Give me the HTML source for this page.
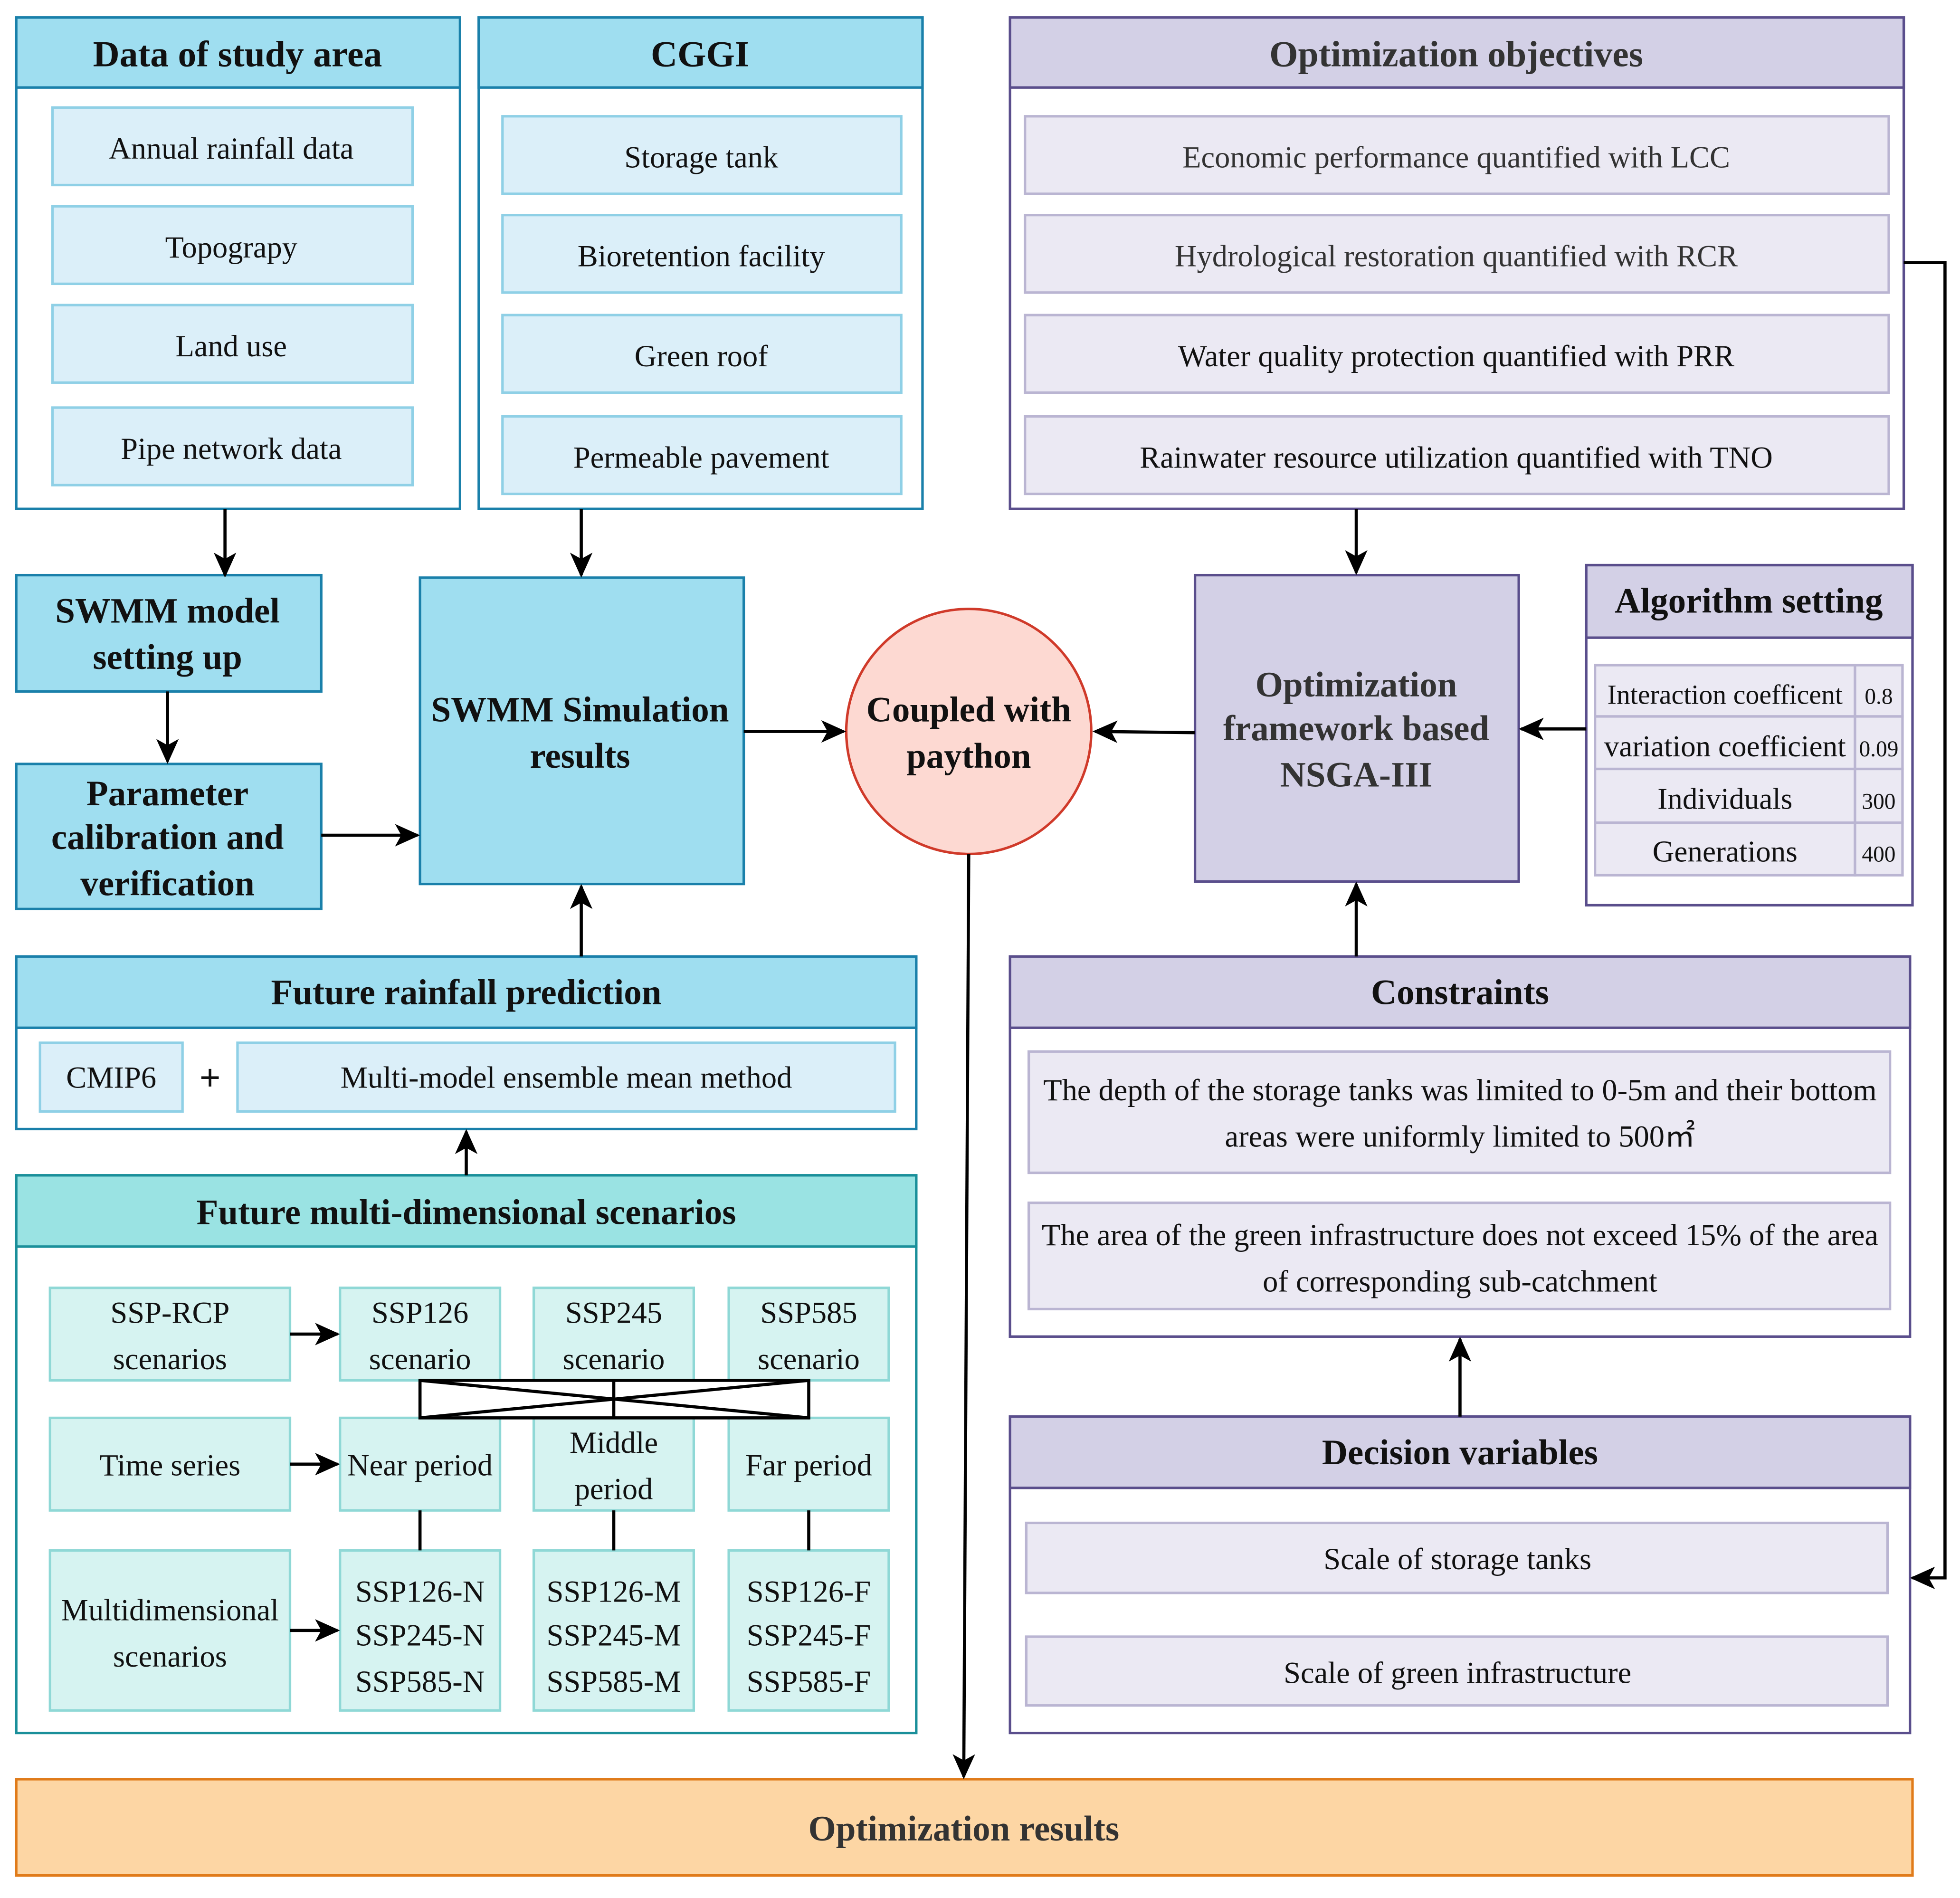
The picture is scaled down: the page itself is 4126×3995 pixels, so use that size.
<!DOCTYPE html>
<html><head><meta charset="utf-8"><style>
html,body{margin:0;padding:0;background:#fff;}
svg{display:block;}
text{font-family:"Liberation Serif",serif;fill:#111;}
</style></head><body>
<svg width="4126" height="3995" viewBox="0 0 1568 1518" preserveAspectRatio="none" xmlns="http://www.w3.org/2000/svg">
<defs>
<marker id="b" markerWidth="20" markerHeight="20" refX="18" refY="10" orient="auto" markerUnits="userSpaceOnUse" viewBox="0 0 20 20"><path d="M0,1 L20,10 L0,19 L5,10 z" fill="#000"/></marker>
</defs>
<rect width="1568" height="1518" fill="#fff"/>
<g stroke-width="2">
<rect x="13" y="14" width="355" height="393" fill="#fff" stroke="#1a80aa"/>
<rect x="13" y="14" width="355" height="56" fill="#9fdef0" stroke="#1a80aa"/>
<g fill="#dbeff9" stroke="#8fd0e6">
<rect x="42" y="86" width="288" height="62"/><rect x="42" y="165" width="288" height="62"/>
<rect x="42" y="244" width="288" height="62"/><rect x="42" y="326" width="288" height="62"/>
</g>
<rect x="383" y="14" width="355" height="393" fill="#fff" stroke="#1a80aa"/>
<rect x="383" y="14" width="355" height="56" fill="#9fdef0" stroke="#1a80aa"/>
<g fill="#dbeff9" stroke="#8fd0e6">
<rect x="402" y="93" width="319" height="62"/><rect x="402" y="172" width="319" height="62"/>
<rect x="402" y="252" width="319" height="62"/><rect x="402" y="333" width="319" height="62"/>
</g>
<rect x="808" y="14" width="715" height="393" fill="#fff" stroke="#5a4e8c"/>
<rect x="808" y="14" width="715" height="56" fill="#d3d0e6" stroke="#5a4e8c"/>
<g fill="#ebe9f3" stroke="#bab5d2">
<rect x="820" y="93" width="691" height="62"/><rect x="820" y="172" width="691" height="62"/>
<rect x="820" y="252" width="691" height="62"/><rect x="820" y="333" width="691" height="62"/>
</g>
<rect x="13" y="460" width="244" height="93" fill="#9fdef0" stroke="#1a80aa"/>
<rect x="13" y="611" width="244" height="116" fill="#9fdef0" stroke="#1a80aa"/>
<rect x="336" y="462" width="259" height="245" fill="#9fdef0" stroke="#1a80aa"/>
<circle cx="775" cy="585" r="98" fill="#fdd9d2" stroke="#d03a2a"/>
<rect x="956" y="460" width="259" height="245" fill="#d3d0e6" stroke="#5a4e8c"/>
<rect x="1269" y="452" width="261" height="272" fill="#fff" stroke="#5a4e8c"/>
<rect x="1269" y="452" width="261" height="58" fill="#d3d0e6" stroke="#5a4e8c"/>
<g fill="#ebe9f3" stroke="#bab5d2">
<rect x="1276" y="532" width="208" height="41"/><rect x="1484" y="532" width="38" height="41"/>
<rect x="1276" y="573" width="208" height="42"/><rect x="1484" y="573" width="38" height="42"/>
<rect x="1276" y="615" width="208" height="43"/><rect x="1484" y="615" width="38" height="43"/>
<rect x="1276" y="658" width="208" height="42"/><rect x="1484" y="658" width="38" height="42"/>
</g>
<rect x="13" y="765" width="720" height="138" fill="#fff" stroke="#1a80aa"/>
<rect x="13" y="765" width="720" height="57" fill="#9fdef0" stroke="#1a80aa"/>
<rect x="32" y="834" width="114" height="55" fill="#dbeff9" stroke="#8fd0e6"/>
<rect x="190" y="834" width="526" height="55" fill="#dbeff9" stroke="#8fd0e6"/>
<rect x="13" y="940" width="720" height="446" fill="#fff" stroke="#1a8f9a"/>
<rect x="13" y="940" width="720" height="57" fill="#9ae3e3" stroke="#1a8f9a"/>
<g fill="#d6f3f1" stroke="#8fd8d6">
<rect x="40" y="1030" width="192" height="74"/><rect x="272" y="1030" width="128" height="74"/><rect x="427" y="1030" width="128" height="74"/><rect x="583" y="1030" width="128" height="74"/>
<rect x="40" y="1134" width="192" height="74"/><rect x="272" y="1134" width="128" height="74"/><rect x="427" y="1134" width="128" height="74"/><rect x="583" y="1134" width="128" height="74"/>
<rect x="40" y="1240" width="192" height="128"/><rect x="272" y="1240" width="128" height="128"/><rect x="427" y="1240" width="128" height="128"/><rect x="583" y="1240" width="128" height="128"/>
</g>
<rect x="808" y="765" width="720" height="304" fill="#fff" stroke="#5a4e8c"/>
<rect x="808" y="765" width="720" height="57" fill="#d3d0e6" stroke="#5a4e8c"/>
<rect x="823" y="841" width="689" height="97" fill="#ebe9f3" stroke="#bab5d2"/>
<rect x="823" y="962" width="689" height="85" fill="#ebe9f3" stroke="#bab5d2"/>
<rect x="808" y="1133" width="720" height="253" fill="#fff" stroke="#5a4e8c"/>
<rect x="808" y="1133" width="720" height="57" fill="#d3d0e6" stroke="#5a4e8c"/>
<rect x="821" y="1218" width="689" height="56" fill="#ebe9f3" stroke="#bab5d2"/>
<rect x="821" y="1309" width="689" height="55" fill="#ebe9f3" stroke="#bab5d2"/>
<rect x="13" y="1423" width="1517" height="77" fill="#fdd6a4" stroke="#e07b1a"/>
</g>
<g stroke="#000" stroke-width="2.5" fill="none">
<line x1="180" y1="407" x2="180" y2="460" marker-end="url(#b)"/>
<line x1="465" y1="407" x2="465" y2="460" marker-end="url(#b)"/>
<line x1="1085" y1="407" x2="1085" y2="458" marker-end="url(#b)"/>
<line x1="134" y1="553" x2="134" y2="609" marker-end="url(#b)"/>
<line x1="257" y1="668" x2="334" y2="668" marker-end="url(#b)"/>
<line x1="595" y1="585" x2="675" y2="585" marker-end="url(#b)"/>
<line x1="956" y1="586" x2="876" y2="585" marker-end="url(#b)"/>
<line x1="1269" y1="583" x2="1217" y2="583" marker-end="url(#b)"/>
<line x1="1085" y1="765" x2="1085" y2="707" marker-end="url(#b)"/>
<line x1="465" y1="765" x2="465" y2="709" marker-end="url(#b)"/>
<line x1="373" y1="940" x2="373" y2="905" marker-end="url(#b)"/>
<line x1="1168" y1="1133" x2="1168" y2="1071" marker-end="url(#b)"/>
<polyline points="1523,210 1556,210 1556,1262 1530,1262" marker-end="url(#b)"/>
<line x1="775" y1="683" x2="771" y2="1421" marker-end="url(#b)"/>
<line x1="232" y1="1067" x2="270" y2="1067" marker-end="url(#b)"/>
<line x1="232" y1="1171" x2="270" y2="1171" marker-end="url(#b)"/>
<line x1="232" y1="1304" x2="270" y2="1304" marker-end="url(#b)"/>
<rect x="336" y="1104" width="311" height="30"/>
<line x1="336" y1="1104" x2="647" y2="1134"/><line x1="336" y1="1134" x2="647" y2="1104"/>
<line x1="491" y1="1104" x2="491" y2="1134"/>
<line x1="336" y1="1208" x2="336" y2="1240"/><line x1="491" y1="1208" x2="491" y2="1240"/><line x1="647" y1="1208" x2="647" y2="1240"/>
</g>
<g text-anchor="middle" font-size="24.5">
<text x="190" y="53" font-weight="bold" font-size="29.5">Data of study area</text>
<text x="560" y="53" font-weight="bold" font-size="29.5">CGGI</text>
<text x="1165" y="53" font-weight="bold" font-size="29.5" style="fill:#333">Optimization objectives</text>
<text x="185" y="127">Annual rainfall data</text>
<text x="185" y="206">Topograpy</text>
<text x="185" y="285">Land use</text>
<text x="185" y="367">Pipe network data</text>
<text x="561" y="134">Storage tank</text>
<text x="561" y="213">Bioretention facility</text>
<text x="561" y="293">Green roof</text>
<text x="561" y="374">Permeable pavement</text>
<text x="1165" y="134" style="fill:#333">Economic performance quantified with LCC</text>
<text x="1165" y="213" style="fill:#333">Hydrological restoration quantified with RCR</text>
<text x="1165" y="293">Water quality protection quantified with PRR</text>
<text x="1165" y="374">Rainwater resource utilization quantified with TNO</text>
<g font-weight="bold" font-size="28.5">
<text x="134" y="498">SWMM model</text><text x="134" y="535">setting up</text>
<text x="134" y="644">Parameter</text><text x="134" y="679">calibration and</text><text x="134" y="716">verification</text>
<text x="464" y="577">SWMM Simulation</text><text x="464" y="614">results</text>
<text x="775" y="577">Coupled with</text><text x="775" y="614">paython</text>
<text x="1085" y="557" style="fill:#333">Optimization</text><text x="1085" y="592" style="fill:#333">framework based</text><text x="1085" y="629" style="fill:#333">NSGA-III</text>
<text x="1399" y="490">Algorithm setting</text>
<text x="373" y="803">Future rainfall prediction</text>
<text x="373" y="979">Future multi-dimensional scenarios</text>
<text x="1168" y="803">Constraints</text>
<text x="1168" y="1171">Decision variables</text>
<text x="771" y="1472" style="fill:#333">Optimization results</text>
</g>
<text x="1380" y="563" font-size="22">Interaction coefficent</text><text x="1503" y="563" font-size="18">0.8</text>
<text x="1380" y="605" font-size="24">variation coefficient</text><text x="1503" y="605" font-size="18">0.09</text>
<text x="1380" y="647" font-size="24">Individuals</text><text x="1503" y="647" font-size="18">300</text>
<text x="1380" y="689" font-size="24">Generations</text><text x="1503" y="689" font-size="18">400</text>
<text x="89" y="870">CMIP6</text>
<text x="168" y="872" font-weight="bold" font-size="30">+</text>
<text x="453" y="870">Multi-model ensemble mean method</text>
<text x="136" y="1058">SSP-RCP</text><text x="136" y="1095">scenarios</text>
<text x="336" y="1058">SSP126</text><text x="336" y="1095">scenario</text>
<text x="491" y="1058">SSP245</text><text x="491" y="1095">scenario</text>
<text x="647" y="1058">SSP585</text><text x="647" y="1095">scenario</text>
<text x="136" y="1180">Time series</text>
<text x="336" y="1180">Near period</text>
<text x="491" y="1162">Middle</text><text x="491" y="1199">period</text>
<text x="647" y="1180">Far period</text>
<text x="136" y="1296">Multidimensional</text><text x="136" y="1333">scenarios</text>
<text x="336" y="1281">SSP126-N</text><text x="336" y="1316">SSP245-N</text><text x="336" y="1353">SSP585-N</text>
<text x="491" y="1281">SSP126-M</text><text x="491" y="1316">SSP245-M</text><text x="491" y="1353">SSP585-M</text>
<text x="647" y="1281">SSP126-F</text><text x="647" y="1316">SSP245-F</text><text x="647" y="1353">SSP585-F</text>
<text x="1168" y="880">The depth of the storage tanks was limited to 0-5m and their bottom</text>
<text x="1168" y="917">areas were uniformly limited to 500㎡</text>
<text x="1168" y="996">The area of the green infrastructure does not exceed 15% of the area</text>
<text x="1168" y="1033">of corresponding sub-catchment</text>
<text x="1166" y="1255">Scale of storage tanks</text>
<text x="1166" y="1346">Scale of green infrastructure</text>
</g>
</svg>
</body></html>
